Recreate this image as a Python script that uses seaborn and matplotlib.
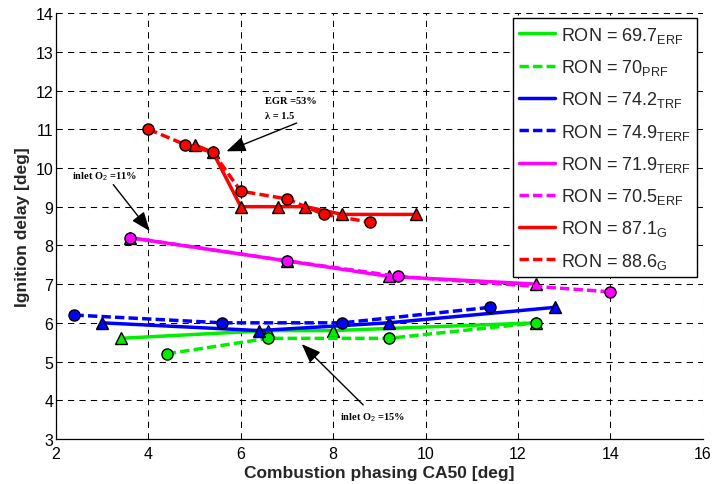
import matplotlib
matplotlib.use("Agg")
import matplotlib.pyplot as plt
from matplotlib.lines import Line2D
import seaborn as sns

# ---------------- data ----------------
x_ron697 = [3.4, 6.6, 8.0, 12.4]
y_ron697 = [5.6, 5.8, 5.8, 6.0]
x_ron70 = [4.4, 6.6, 9.2, 12.4]
y_ron70 = [5.2, 5.6, 5.6, 6.0]
x_ron742 = [3.0, 6.4, 9.2, 12.8]
y_ron742 = [6.0, 5.8, 6.0, 6.4]
x_ron749 = [2.4, 5.6, 8.2, 11.4]
y_ron749 = [6.2, 6.0, 6.0, 6.4]
x_ron719 = [3.6, 7.0, 9.2, 12.4]
y_ron719 = [8.2, 7.6, 7.2, 7.0]
x_ron705 = [3.6, 7.0, 9.4, 14.0]
y_ron705 = [8.2, 7.6, 7.2, 6.8]
x_ron871 = [5.0, 5.4, 6.0, 6.8, 7.4, 8.2, 9.8]
y_ron871 = [10.6, 10.4, 9.0, 9.0, 9.0, 8.8, 8.8]
x_ron886 = [4.0, 4.8, 5.4, 6.0, 7.0, 7.8, 8.8]
y_ron886 = [11.0, 10.6, 10.4, 9.4, 9.2, 8.8, 8.6]

labels = [
    r"RON = 69.7$_{\mathrm{ERF}}$",
    r"RON = 70$_{\mathrm{PRF}}$",
    r"RON = 74.2$_{\mathrm{TRF}}$",
    r"RON = 74.9$_{\mathrm{TERF}}$",
    r"RON = 71.9$_{\mathrm{TERF}}$",
    r"RON = 70.5$_{\mathrm{ERF}}$",
    r"RON = 87.1$_{\mathrm{G}}$",
    r"RON = 88.6$_{\mathrm{G}}$",
]
xticks = [2, 4, 6, 8, 10, 12, 14, 16]
yticks = [3, 4, 5, 6, 7, 8, 9, 10, 11, 12, 13, 14]

# ---------------- style ----------------
sns.set_style("white")
plt.rcParams["font.family"] = ["Liberation Sans", "DejaVu Sans"]
plt.rcParams["mathtext.fontset"] = "custom"
plt.rcParams["mathtext.rm"] = "Liberation Sans"
plt.rcParams["mathtext.it"] = "Liberation Sans:italic"
plt.rcParams["mathtext.bf"] = "Liberation Sans:bold"

GREEN = "#00ee00"
BLUE = "#0000ff"
MAG = "#ff00ff"
RED = "#ff0000"
DASH = (0, (2.7, 1.2))

series = [
    (x_ron697, y_ron697, GREEN, "-", "^", 9),
    (x_ron70, y_ron70, GREEN, DASH, "o", 8),
    (x_ron742, y_ron742, BLUE, "-", "^", 9),
    (x_ron749, y_ron749, BLUE, DASH, "o", 8),
    (x_ron719, y_ron719, MAG, "-", "^", 9),
    (x_ron705, y_ron705, MAG, DASH, "o", 8),
    (x_ron871, y_ron871, RED, "-", "^", 9),
    (x_ron886, y_ron886, RED, DASH, "o", 8),
]

fig = plt.figure(figsize=(7.14, 4.85), dpi=100)
ax = fig.add_axes([0.0784, 0.0928, 0.9058, 0.8782])

for xs, ys, c, ls, m, ms in series:
    sns.lineplot(x=xs, y=ys, ax=ax, color=c, linestyle=ls, linewidth=2.5,
                 marker=m, markersize=ms, markeredgecolor="k",
                 markeredgewidth=1.0, sort=False, estimator=None,
                 errorbar=None, legend=False)

ax.set_xlim(2, 16)
ax.set_ylim(3, 14)
ax.set_xticks(xticks)
ax.set_yticks(yticks)
ax.tick_params(axis="both", direction="in", length=5, width=0.8,
               labelsize=11.5, colors="k", top=False, right=False)
ax.tick_params(axis="x", pad=5)
ax.tick_params(axis="y", pad=2)
ax.grid(True, color="k", linestyle=(0, (6, 5)), linewidth=0.75)
ax.set_axisbelow(True)
for s in ["top", "right"]:
    ax.spines[s].set_visible(False)
for s in ["left", "bottom"]:
    ax.spines[s].set_color("k")
    ax.spines[s].set_linewidth(0.9)

ax.set_xlabel("Combustion phasing CA50 [deg]", fontsize=12.5,
              fontweight="bold", labelpad=3)
ax.set_ylabel("Ignition delay [deg]", fontsize=12.5, fontweight="bold",
              labelpad=4)

# ---------------- annotations ----------------
tfont = dict(family=["Liberation Serif", "DejaVu Serif"], fontweight="bold",
             fontsize=7.5, color="k", va="baseline", ha="left")
ax.text(6.52, 11.69, "EGR =53%", **tfont)
ax.text(6.52, 11.29, "λ = 1.5", **tfont)
ax.text(2.34, 9.74, r"inlet O$_2$ =11%", **tfont)
ax.text(8.15, 3.52, r"inlet O$_2$ =15%", **tfont)

aprops = dict(arrowstyle="-|>,head_length=0.9,head_width=0.35", color="k",
              lw=1.0, mutation_scale=13, shrinkA=0, shrinkB=0)
ax.annotate("", xy=(5.69, 10.43), xytext=(7.21, 11.16), arrowprops=aprops)
ax.annotate("", xy=(4.03, 8.37), xytext=(3.24, 9.57), arrowprops=aprops)
ax.annotate("", xy=(7.32, 5.45), xytext=(8.65, 3.88), arrowprops=aprops)

# ---------------- legend ----------------
handles = [Line2D([], [], color=c, linestyle=ls, linewidth=2.5)
           for _, _, c, ls, _, _ in series]
leg = ax.legend(handles, labels, loc="upper right", fontsize=13,
                frameon=True, fancybox=False, framealpha=1, edgecolor="k",
                borderaxespad=0.3, borderpad=0.35, labelspacing=0.68,
                handlelength=2.0, handletextpad=0.3)
leg.get_frame().set_linewidth(1.0)

fig.savefig("out.png", dpi=100)
